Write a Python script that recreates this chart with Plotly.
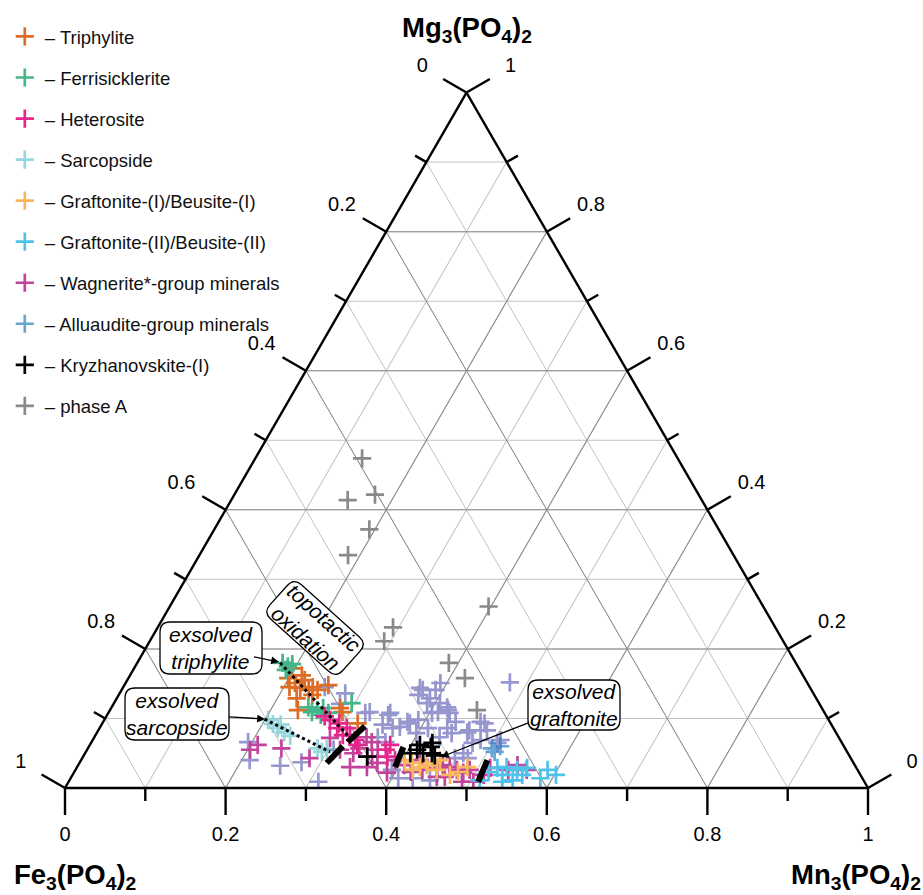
import math
import plotly.graph_objects as go

# ---- data: molar fractions (Mg3(PO4)2 = top, Mn3(PO4)2 = right; Fe3(PO4)2 = remainder)
triphylite_mg = [0.172, 0.151, 0.144, 0.141, 0.145, 0.141, 0.145, 0.129, 0.112, 0.155, 0.115, 0.109, 0.148, 0.093, 0.158, 0.162, 0.134]
triphylite_mn = [0.197, 0.211, 0.221, 0.233, 0.236, 0.244, 0.207, 0.224, 0.234, 0.221, 0.285, 0.291, 0.254, 0.318, 0.199, 0.214, 0.241]

ferrisick_mg = [0.180, 0.175, 0.178, 0.170, 0.109, 0.112, 0.115, 0.105, 0.108, 0.122, 0.116]
ferrisick_mn = [0.181, 0.190, 0.194, 0.190, 0.253, 0.258, 0.264, 0.266, 0.274, 0.296, 0.245]

heterosite_mg = [0.098, 0.093, 0.086, 0.086, 0.076, 0.076, 0.069, 0.062, 0.055, 0.062, 0.045, 0.103]
heterosite_mn = [0.281, 0.295, 0.308, 0.296, 0.317, 0.308, 0.327, 0.333, 0.372, 0.374, 0.379, 0.272]

sarcopside_mg = [0.098, 0.092, 0.086, 0.080, 0.075, 0.091, 0.052, 0.056, 0.057]
sarcopside_mn = [0.204, 0.213, 0.222, 0.233, 0.243, 0.223, 0.294, 0.298, 0.286]

graftonite1_mg = [0.040, 0.036, 0.030, 0.026, 0.033, 0.037, 0.040, 0.026, 0.023, 0.030, 0.019]
graftonite1_mn = [0.403, 0.414, 0.427, 0.420, 0.434, 0.439, 0.447, 0.450, 0.478, 0.486, 0.470]

graftonite2_mg = [0.023, 0.029, 0.019, 0.030, 0.026, 0.029, 0.009, 0.011, 0.019, 0.026, 0.019, 0.011, 0.014]
graftonite2_mn = [0.516, 0.524, 0.535, 0.535, 0.550, 0.561, 0.540, 0.552, 0.560, 0.588, 0.602, 0.511, 0.585]

wagnerite_mg = [0.055, 0.062, 0.057, 0.043, 0.073, 0.066, 0.055, 0.045, 0.036, 0.050, 0.030, 0.030,
                0.022, 0.023, 0.026, 0.029, 0.033, 0.030, 0.026, 0.022, 0.026, 0.009, 0.009, 0.029,
                0.026, 0.033, 0.026, 0.016, 0.016, 0.055, 0.057, 0.040, 0.033, 0.040, 0.019, 0.072]
wagnerite_mn = [0.203, 0.209, 0.241, 0.283, 0.339, 0.349, 0.362, 0.360, 0.371, 0.334, 0.340, 0.361,
                0.390, 0.419, 0.432, 0.449, 0.454, 0.464, 0.475, 0.485, 0.491, 0.490, 0.504, 0.515,
                0.539, 0.547, 0.562, 0.465, 0.455, 0.315, 0.338, 0.391, 0.406, 0.422, 0.512, 0.294]

alluaudite_mg = [0.052, 0.060, 0.057]
alluaudite_mn = [0.509, 0.512, 0.503]

kryzh_mg = [0.050, 0.055, 0.050, 0.059, 0.050, 0.047, 0.062, 0.065, 0.045]
kryzh_mn = [0.405, 0.411, 0.421, 0.426, 0.432, 0.437, 0.411, 0.425, 0.354]

phaseA_mg = [0.474, 0.414, 0.422, 0.372, 0.335, 0.261, 0.231, 0.211, 0.180, 0.158, 0.112]
phaseA_mn = [0.133, 0.145, 0.175, 0.193, 0.185, 0.397, 0.293, 0.292, 0.388, 0.419, 0.457]

other_mg = [0.066, 0.040, 0.032, 0.037, 0.009, 0.145, 0.136, 0.121, 0.108, 0.109, 0.105, 0.091,
            0.086, 0.093, 0.098, 0.108, 0.141, 0.122, 0.141, 0.055, 0.014, 0.011, 0.073, 0.066,
            0.144, 0.151, 0.134, 0.129, 0.116, 0.108, 0.109, 0.095, 0.086, 0.073, 0.086, 0.079,
            0.083, 0.095, 0.083, 0.152, 0.069, 0.050, 0.043, 0.043, 0.108, 0.088, 0.095, 0.079,
            0.080, 0.069, 0.093, 0.065, 0.065, 0.122, 0.112, 0.026, 0.014]
other_mn = [0.195, 0.210, 0.252, 0.276, 0.311, 0.251, 0.281, 0.282, 0.320, 0.325, 0.350, 0.350,
            0.365, 0.383, 0.391, 0.403, 0.375, 0.390, 0.391, 0.307, 0.426, 0.449, 0.353, 0.366,
            0.370, 0.392, 0.373, 0.390, 0.418, 0.425, 0.410, 0.439, 0.433, 0.430, 0.409, 0.398,
            0.462, 0.470, 0.484, 0.478, 0.508, 0.471, 0.480, 0.464, 0.351, 0.373, 0.379, 0.442,
            0.461, 0.483, 0.476, 0.475, 0.506, 0.406, 0.421, 0.394, 0.408]

# tie-line guides (start, end)
dotted1_mg = [0.180, 0.072]
dotted1_mn = [0.178, 0.319]
dotted2_mg = [0.099, 0.052]
dotted2_mn = [0.199, 0.304]

bar1_mg = [0.066, 0.089]
bar1_mn = [0.319, 0.329]
bar2_mg = [0.036, 0.060]
bar2_mn = [0.308, 0.316]
bar3_mg = [0.030, 0.059]
bar3_mn = [0.396, 0.392]
bar4_mg = [0.009, 0.040]
bar4_mn = [0.510, 0.506]

major_ticks = [0, 0.2, 0.4, 0.6, 0.8, 1]
minor_ticks = [0.1, 0.3, 0.5, 0.7, 0.9]

FONT = "Arial, Liberation Sans, sans-serif"

# ---- geometry of the ternary frame (pixels)
W, H = 923, 895
X0, X1 = 65, 868          # bottom-left / bottom-right vertex x
YB = 788                   # bottom edge y
TW = X1 - X0
TH = TW * math.sqrt(3) / 2
S3 = math.sqrt(3) / 2
dom = dict(x=[X0 / W, X1 / W], y=[1 - YB / H, 1 - (YB - TH) / H])


def fe(mg, mn):
    return [round(1 - a - c, 4) for a, c in zip(mg, mn)]


def proj(mg, mn):
    """ternary -> cartesian frame (side length 1, Fe corner at origin)"""
    return mn + mg / 2, mg * S3


def fmt(v):
    return {0: "0", 1: "1"}.get(v, f"{v:.1f}")


# each frame side: edge point for a tick value, outward unit normal (screen: y up), label
sides = [
    (lambda v: proj(v, 0.0), (-S3, 0.5), lambda v: fmt(round(1 - v, 1))),    # left: Fe
    (lambda v: proj(0.0, v), (0.0, -1.0), lambda v: fmt(v)),                 # bottom: Mn
    (lambda v: proj(v, 1 - v), (S3, 0.5), lambda v: fmt(v)),                 # right: Mg
]

series = [
    ("other", other_mg, other_mn, "#8c8ccc", 0.9, False, 100),
    ("– phase A", phaseA_mg, phaseA_mn, "#8a8a8a", 1.0, True, 10),
    ("– Wagnerite*-group minerals", wagnerite_mg, wagnerite_mn, "#c2449a", 1.0, True, 7),
    ("– Graftonite-(I)/Beusite-(I)", graftonite1_mg, graftonite1_mn, "#f7b75c", 1.0, True, 5),
    ("– Graftonite-(II)/Beusite-(II)", graftonite2_mg, graftonite2_mn, "#4fc2ea", 1.0, True, 6),
    ("– Alluaudite-group minerals", alluaudite_mg, alluaudite_mn, "#2a7fc0", 0.7, True, 8),
    ("– Sarcopside", sarcopside_mg, sarcopside_mn, "#74c9d2", 0.75, True, 4),
    ("– Triphylite", triphylite_mg, triphylite_mn, "#dd6c25", 1.0, True, 1),
    ("– Ferrisicklerite", ferrisick_mg, ferrisick_mn, "#45b58a", 1.0, True, 2),
    ("– Heterosite", heterosite_mg, heterosite_mn, "#e7258a", 1.0, True, 3),
    ("– Kryzhanovskite-(I)", kryzh_mg, kryzh_mn, "#000000", 1.0, True, 9),
]

fig = go.Figure()

# ---- perpendicular tick marks and tick labels (hidden cartesian frame aligned with triangle)
PXU = TW  # pixels per cartesian unit
for edge, (nx, ny), lab in sides:
    for vals, length in [(major_ticks, 27), (minor_ticks, 13)]:
        xs, ys = [], []
        for v in vals:
            x, y = edge(v)
            xs += [x, x + nx * length / PXU, None]
            ys += [y, y + ny * length / PXU, None]
        fig.add_trace(go.Scatter(x=xs, y=ys, mode="lines", showlegend=False, hoverinfo="skip",
                                 line=dict(color="black", width=2.4)))
    dist = 48 if nx == 0 else 51
    lx, ly, lt = [], [], []
    for v in major_ticks:
        x, y = edge(v)
        lx.append(x + nx * dist / PXU)
        ly.append(y + ny * dist / PXU)
        lt.append(lab(v))
    fig.add_trace(go.Scatter(x=lx, y=ly, mode="text", text=lt, textposition="middle center",
                             showlegend=False, hoverinfo="skip", cliponaxis=False,
                             textfont=dict(family=FONT, size=20, color="black")))

# dummy trace so the minor-grid subplot is drawn
fig.add_trace(go.Scatterternary(a=[], b=[], c=[], subplot="ternary", showlegend=False,
                                mode="markers", hoverinfo="skip"))

for name, mg, mn, col, op, sl, rank in series:
    fig.add_trace(go.Scatterternary(
        a=mg, b=fe(mg, mn), c=mn, mode="markers", name=name,
        subplot="ternary2", showlegend=sl, legendrank=rank, legendgroup=name,
        opacity=op,
        marker=dict(symbol="cross-thin", size=13, color=col,
                    line=dict(color=col, width=2.7)),
        hoverinfo="skip"))

for mg, mn in [(dotted1_mg, dotted1_mn), (dotted2_mg, dotted2_mn)]:
    fig.add_trace(go.Scatterternary(
        a=mg, b=fe(mg, mn), c=mn, mode="lines", subplot="ternary2", showlegend=False,
        line=dict(color="black", width=3, dash="dot"), hoverinfo="skip"))

for mg, mn in [(bar1_mg, bar1_mn), (bar2_mg, bar2_mn), (bar3_mg, bar3_mn), (bar4_mg, bar4_mn)]:
    fig.add_trace(go.Scatterternary(
        a=mg, b=fe(mg, mn), c=mn, mode="lines", subplot="ternary2", showlegend=False,
        line=dict(color="black", width=6), hoverinfo="skip"))


def frame_axis(grid_color, line):
    return dict(tickmode="linear", tick0=0, dtick=0.1 if line is None else 0.2,
                ticks="", showticklabels=False,
                showgrid=True, gridcolor=grid_color, gridwidth=1,
                showline=line is not None, linecolor="black", linewidth=line or 1,
                title=dict(text=""))


fig.update_layout(
    width=W, height=H,
    margin=dict(l=0, r=0, t=0, b=0, autoexpand=False),
    paper_bgcolor="white", plot_bgcolor="white",
    font=dict(family=FONT, color="black"),
    xaxis=dict(range=[-X0 / PXU, (W - X0) / PXU], visible=False, fixedrange=True),
    yaxis=dict(range=[-(H - YB) / PXU, YB / PXU], visible=False, fixedrange=True),
    ternary=dict(domain=dom, sum=1, bgcolor="white",
                 aaxis=frame_axis("#c2c2c2", None), baxis=frame_axis("#c2c2c2", None),
                 caxis=frame_axis("#c2c2c2", None)),
    ternary2=dict(domain=dom, sum=1, bgcolor="rgba(0,0,0,0)",
                  aaxis=frame_axis("#8c8c8c", 2.4), baxis=frame_axis("#8c8c8c", 2.4),
                  caxis=frame_axis("#8c8c8c", 2.4)),
    legend=dict(x=0.0052, y=0.98, xanchor="left", yanchor="top",
                font=dict(family=FONT, size=18.5, color="#111"),
                tracegroupgap=14, bgcolor="rgba(0,0,0,0)"),
    showlegend=True,
)

# ---- axis titles
title_font = dict(family=FONT, size=27.5, color="black")
for text, (cx, cy) in [("<b>Mg<sub>3</sub>(PO<sub>4</sub>)<sub>2</sub></b>", (467, 30)),
                       ("<b>Fe<sub>3</sub>(PO<sub>4</sub>)<sub>2</sub></b>", (75, 876)),
                       ("<b>Mn<sub>3</sub>(PO<sub>4</sub>)<sub>2</sub></b>", (856, 876))]:
    fig.add_annotation(x=cx / W, y=1 - cy / H, xref="paper", yref="paper", text=text,
                       showarrow=False, font=title_font, xanchor="center", yanchor="middle")


# ---- callouts: rounded boxes + arrows
def rounded_box(cx, cy, w, h, r, ang):
    t = math.radians(ang)
    ct, st = math.cos(t), math.sin(t)

    def p(x, y):
        X = cx + x * ct - y * st
        Y = cy + x * st + y * ct
        return f"{X / W:.5f},{1 - Y / H:.5f}"
    hw, hh = w / 2, h / 2
    return (f"M{p(-hw + r, -hh)} L{p(hw - r, -hh)} Q{p(hw, -hh)} {p(hw, -hh + r)} "
            f"L{p(hw, hh - r)} Q{p(hw, hh)} {p(hw - r, hh)} L{p(-hw + r, hh)} "
            f"Q{p(-hw, hh)} {p(-hw, hh - r)} L{p(-hw, -hh + r)} Q{p(-hw, -hh)} {p(-hw + r, -hh)} Z")


ann_font = dict(family=FONT, size=21, color="black")
notes = [
    # text, arrow tip, box centre, box w, box h, angle
    ("<i>exsolved<br>triphylite</i>", (279, 662), (211, 648), 102, 52, 0),
    ("<i>exsolved<br>sarcopside</i>", (265, 719), (177, 714), 104, 52, 0),
    ("<i>topotactic<br>oxidation</i>", (331, 675), (315, 628), 98, 46, 42),
    ("<i>exsolved<br>graftonite</i>", (441, 757), (574, 705), 92, 50, 0),
]
for text, tip, center, bw, bh, ang in notes:
    fig.add_shape(type="path", xref="paper", yref="paper", layer="above",
                  path=rounded_box(center[0], center[1], bw, bh, 10, ang),
                  line=dict(color="black", width=1.3), fillcolor="white")
    fig.add_annotation(x=tip[0] / W, y=1 - tip[1] / H, xref="paper", yref="paper", text=text,
                       showarrow=True, arrowhead=2, arrowsize=1.2, arrowwidth=1.3,
                       arrowcolor="black", ax=center[0] - tip[0], ay=center[1] - tip[1],
                       axref="pixel", ayref="pixel", font=ann_font,
                       bgcolor="rgba(0,0,0,0)", borderwidth=0, borderpad=1,
                       textangle=ang, align="center")

fig.write_html("out.html", post_script="document.body.style.margin='0px';",
               config={"displayModeBar": False})
